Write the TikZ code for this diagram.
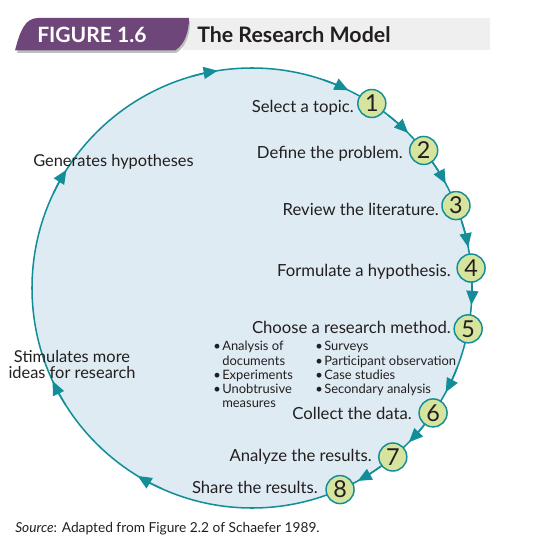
\documentclass[tikz,border=0pt]{standalone}
\usepackage{fontspec}
\setmainfont{Lato}
\usetikzlibrary{arrows.meta,calc}
\definecolor{tealc}{HTML}{138E98}
\definecolor{bluefill}{HTML}{DEEBF2}
\definecolor{nodefill}{HTML}{D6E49E}
\definecolor{ink}{HTML}{231F20}
\definecolor{purp}{HTML}{6F4679}
\definecolor{barg}{HTML}{EFEFEF}
\tikzset{
  num/.style={circle, draw=tealc, line width=1.1pt, fill=nodefill, minimum size=21pt, inner sep=0pt, text=ink, font=\fontsize{17.5}{17.5}\selectfont},
  lbl/.style={font=\fontsize{12.5}{15}\selectfont, text=ink, inner sep=0pt, anchor=base east},
  lbll/.style={font=\fontsize{12.3}{15}\selectfont, text=ink, inner sep=0pt},
  bul/.style={font=\fontsize{9.7}{10.7}\selectfont, text=ink, inner sep=0pt, anchor=base west},
  ring/.style={draw=tealc, line width=1.15pt, fill=bluefill},
  arrowhd/.style={draw=tealc, line width=1.15pt, -{Triangle[length=10.5pt,width=9pt]}, tealc}
}
\begin{document}
\begin{tikzpicture}[x=0.75pt,y=0.75pt]
\useasboundingbox (0,0) rectangle (539,-545);
% header
\fill[barg] (183,-18) rectangle (490,-50.5);
\fill[black!25] (17,-53) .. controls (22,-33) and (27,-21) .. (40,-21) -- (190,-21) .. controls (190,-36) and (185,-48) .. (176,-53) -- cycle;
\fill[purp] (15,-50.5) .. controls (20,-31) and (25,-18) .. (38,-18) -- (189,-18) .. controls (189,-33) and (184,-45) .. (175,-50.5) -- cycle;
\node[inner sep=0pt, anchor=base west, text=white, font=\bfseries\fontsize{15.8}{17}\selectfont] (fig) at (37,-43) {FIGURE 1.6};
\node[inner sep=0pt, anchor=base west, text=ink, font=\bfseries\fontsize{16}{17}\selectfont] (title) at (197,-42.7) {The Research Model};
% ring
\coordinate (C) at (252,-288);
\draw[ring] (C) circle[radius=220];
\foreach \a in {99,64,44.8,28.3,10.7,-4.4,-28.3,-44.5,-61.3,-121.3,-155,147.5}
  \draw[arrowhd] ($(C)+(\a+7:220)$) arc[start angle=\a+7, end angle=\a, radius=220];
\foreach \i/\a in {1/57,2/38.7,3/22,4/5.2,5/-10.7,6/-34.6,7/-50.2,8/-66.4}
  \node[num] (n\i) at ($(C)+(\a:220)$) {\i};
% step labels
\node[lbl] (t1) at (354,-113) {Select a topic.};
\node[lbl] (t2) at (403,-159) {Define the problem.};
\node[lbl] (t3) at (439,-215) {Review the literature.};
\node[lbl] (t4) at (451,-276) {Formulate a hypothesis.};
\node[lbl] (t5) at (451,-333) {Choose a research method.};
\node[lbl] (t6) at (412,-419) {Collect the data.};
\node[lbl] (t7) at (372,-461) {Analyze the results.};
\node[lbl] (t8) at (318,-493) {Share the results.};
% methods
\node[bul] (b1) at (213,-350.7) {•};
\node[bul] (b1t) at (222,-350.7) {Analysis of};
\node[bul] (b1u) at (222,-365) {documents};
\node[bul] (b2) at (213,-379.3) {•};
\node[bul] (b2t) at (222,-379.3) {Experiments};
\node[bul] (b3) at (213,-393.6) {•};
\node[bul] (b3t) at (222,-393.6) {Unobtrusive};
\node[bul] (b3u) at (222,-407.9) {measures};
\node[bul] (c1) at (315,-350.7) {•};
\node[bul] (c1t) at (324,-350.7) {Surveys};
\node[bul] (c2) at (315,-365) {•};
\node[bul] (c2t) at (324,-365) {Participant observation};
\node[bul] (c3) at (315,-379.3) {•};
\node[bul] (c3t) at (324,-379.3) {Case studies};
\node[bul] (c4) at (315,-393.6) {•};
\node[bul] (c4t) at (324,-393.6) {Secondary analysis};
% side labels
\node[lbll, anchor=base west] (gen) at (33,-167) {Generates hypotheses};
\node[lbll, anchor=base] (stim1) at (72,-362) {Stimulates more};
\node[lbll, anchor=base] (stim2) at (72,-378) {ideas for research};
% source
\node[inner sep=0pt, anchor=base west, text=ink, font=\fontsize{10.3}{12}\selectfont] (src) at (15,-532) {\textit{Source}: Adapted from Figure 2.2 of Schaefer 1989.};
\end{tikzpicture}
\end{document}
